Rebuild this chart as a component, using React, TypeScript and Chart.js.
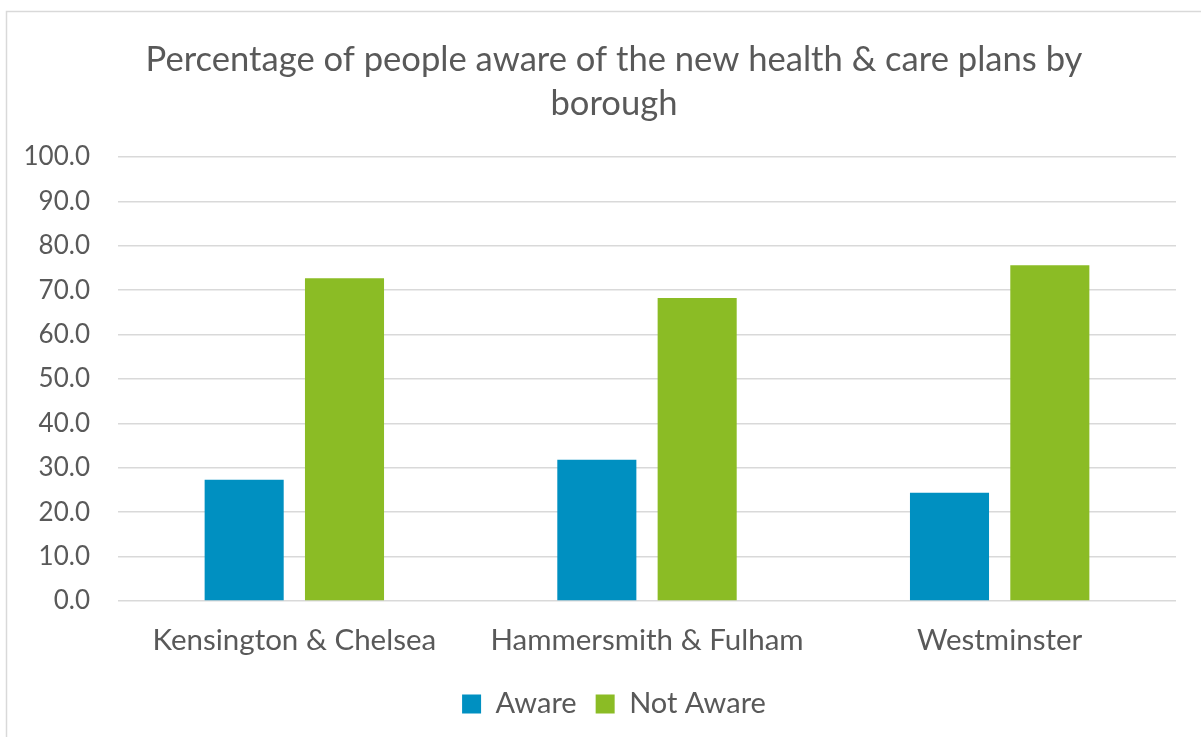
import React, { useEffect, useRef } from "react";
import { Chart, registerables } from "chart.js";

Chart.register(...registerables);

const categories = ["Kensington & Chelsea", "Hammersmith & Fulham", "Westminster"];
const awareValues = [27.3, 31.8, 24.4];
const notAwareValues = [72.7, 68.2, 75.6];
const seriesNames = ["Aware", "Not Aware"];
const titleLines = ["Percentage of people aware of the new health & care plans by", "borough"];

const FONT = "Lato, 'Open Sans', sans-serif";
const TEXT = "#595959";

const borderPlugin = {
  id: "outerBorder",
  beforeDraw(chart: any) {
    const ctx = chart.ctx;
    ctx.save();
    ctx.fillStyle = "#ffffff";
    ctx.fillRect(0, 0, chart.width, chart.height);
    ctx.strokeStyle = "#d9d9d9";
    ctx.lineWidth = 1.5;
    ctx.strokeRect(6.5, 11.5, 1220, 740);
    ctx.restore();
  },
};

export default function App() {
  const ref = useRef<HTMLCanvasElement | null>(null);
  useEffect(() => {
    if (!ref.current) return;
    const chart = new Chart(ref.current, {
      type: "bar",
      data: {
        labels: categories,
        datasets: [
          {
            label: seriesNames[0],
            data: awareValues,
            backgroundColor: "#0090c1",
            categoryPercentage: 0.569,
            barPercentage: 0.788,
          },
          {
            label: seriesNames[1],
            data: notAwareValues,
            backgroundColor: "#8bbc25",
            categoryPercentage: 0.569,
            barPercentage: 0.788,
          },
        ],
      },
      options: {
        animation: false,
        responsive: false,
        maintainAspectRatio: false,
        layout: { padding: { left: 22, right: -5, top: 0, bottom: 8.5 } },
        plugins: {
          title: {
            display: true,
            text: titleLines,
            color: TEXT,
            font: { family: FONT, size: 34.6, weight: "normal", lineHeight: 1.27 },
            padding: { top: 38, bottom: 31 },
          },
          legend: {
            display: true,
            position: "bottom",
            labels: {
              color: TEXT,
              font: { family: FONT, size: 29 },
              boxWidth: 19,
              boxHeight: 19,
              padding: 19,
            },
          },
          tooltip: { enabled: false },
        },
        scales: {
          x: {
            grid: { display: false, drawTicks: false },
            border: { display: false },
            afterFit(scale: any) {
              scale.height = 69.5;
            },
            ticks: {
              color: TEXT,
              font: { family: FONT, size: 29.5, lineHeight: 1.2 },
              padding: 22,
              maxRotation: 0,
            },
          },
          y: {
            min: 0,
            max: 100,
            afterFit(scale: any) {
              scale.width = 96;
            },
            grid: { color: "#d9d9d9", lineWidth: 1.5, drawTicks: false },
            border: { display: false },
            ticks: {
              stepSize: 10,
              color: TEXT,
              font: { family: FONT, size: 26 },
              padding: 28,
              callback: (v: any) => Number(v).toFixed(1),
            },
          },
          spacer: {
            type: "linear",
            position: "right",
            display: true,
            afterFit(scale: any) {
              scale.width = 30;
            },
            grid: { display: false, drawTicks: false },
            border: { display: false },
            ticks: { display: false },
          },
        },
      },
      plugins: [borderPlugin],
    });
    return () => chart.destroy();
  }, []);
  return (
    <div style={{ position: "fixed", left: 0, top: 0, width: 1201, height: 737, background: "#fff" }}>
      <canvas ref={ref} width={1201} height={737} style={{ display: "block" }} />
    </div>
  );
}
